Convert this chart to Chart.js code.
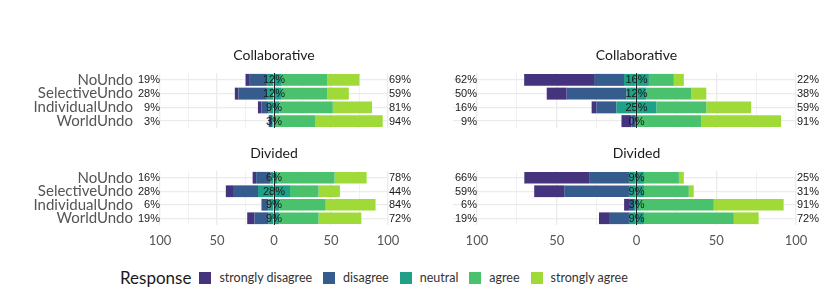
<!DOCTYPE html>
<html>
<head>
<meta charset="utf-8">
<script src="https://cdn.jsdelivr.net/npm/chart.js@4"></script>
<style>
  body { margin: 0; background: #fff; }
  #wrap { position: relative; width: 830px; height: 297px; overflow: hidden; }
  canvas { position: absolute; }
  #legend { position: absolute; left: 120px; top: 267px; display: flex; align-items: center;
            font-family: Lato, sans-serif; color: #1a1a1a; white-space: nowrap; }
  #legend .ttl { font-size: 17px; margin-right: 8px; }
  #legend .box { width: 12px; height: 12px; margin-right: 8px; }
  #legend .lab { font-size: 12.5px; margin-right: 11px; color: #333; }
</style>
</head>
<body>
<div id="wrap">
  <canvas id="p1" width="420" height="95" style="left:0;top:40px"></canvas>
  <canvas id="p2" width="410" height="95" style="left:420px;top:40px"></canvas>
  <canvas id="p3" width="420" height="115" style="left:0;top:135px"></canvas>
  <canvas id="p4" width="410" height="115" style="left:420px;top:135px"></canvas>
  <div id="legend"></div>
</div>
<script>
const categories = ['NoUndo', 'SelectiveUndo', 'IndividualUndo', 'WorldUndo'];
const responses = ['strongly disagree', 'disagree', 'neutral', 'agree', 'strongly agree'];
const responseColors = ['#46337e', '#365c8d', '#1fa187', '#4ac16d', '#a0da39'];
const xTicks = [-100, -75, -50, -25, 0, 25, 50, 75, 100];

// percent of responses, rows: strongly disagree, disagree, neutral, agree, strongly agree
const collabLeft = [
    [3.1, 3.1, 3.1, 0],
    [15.6, 25.0, 6.3, 3.1],
    [12.5, 12.5, 9.4, 3.1],
    [40.6, 40.6, 46.9, 34.4],
    [28.1, 18.8, 34.4, 59.4]
];
const collabLeftLow = ['19%', '28%', '9%', '3%'];
const collabLeftMid = ['12%', '12%', '9%', '3%'];
const collabLeftHigh = ['69%', '59%', '81%', '94%'];

const collabRight = [
    [43.8, 12.5, 3.1, 6.3],
    [18.8, 37.5, 12.5, 3.1],
    [15.6, 12.5, 25.0, 0],
    [15.6, 28.1, 31.3, 40.6],
    [6.3, 9.4, 28.1, 50.0]
];
const collabRightLow = ['62%', '50%', '16%', '9%'];
const collabRightMid = ['16%', '12%', '25%', '0%'];
const collabRightHigh = ['22%', '38%', '59%', '91%'];

const dividedLeft = [
    [3.1, 6.3, 0, 6.3],
    [12.5, 21.9, 6.3, 12.5],
    [6.3, 28.1, 9.4, 9.4],
    [50.0, 25.0, 40.6, 34.4],
    [28.1, 18.8, 43.8, 37.5]
];
const dividedLeftLow = ['16%', '28%', '6%', '19%'];
const dividedLeftMid = ['6%', '28%', '9%', '9%'];
const dividedLeftHigh = ['78%', '44%', '84%', '72%'];

const dividedRight = [
    [40.6, 18.8, 3.1, 6.3],
    [25.0, 40.6, 3.1, 12.5],
    [9.4, 9.4, 3.1, 9.4],
    [21.9, 28.1, 46.9, 56.3],
    [3.1, 3.1, 43.8, 15.6]
];
const dividedRightLow = ['66%', '59%', '6%', '19%'];
const dividedRightMid = ['9%', '9%', '3%', '9%'];
const dividedRightHigh = ['25%', '31%', '91%', '72%'];

const panels = [
    { id: 'p1', title: 'Collaborative', data: collabLeft, low: collabLeftLow, mid: collabLeftMid, high: collabLeftHigh,
      showCats: true, showTicks: false, xMin: -100, pad: { left: 160, right: 32, top: 33, bottom: 7 } },
    { id: 'p2', title: 'Collaborative', data: collabRight, low: collabRightLow, mid: collabRightMid, high: collabRightHigh,
      showCats: false, showTicks: false, xMin: -115, pad: { left: 33, right: 34, top: 33, bottom: 7 } },
    { id: 'p3', title: 'Divided', data: dividedLeft, low: dividedLeftLow, mid: dividedLeftMid, high: dividedLeftHigh,
      showCats: true, showTicks: true, xMin: -100, pad: { left: 160, right: 32, top: 36, bottom: 0 } },
    { id: 'p4', title: 'Divided', data: dividedRight, low: dividedRightLow, mid: dividedRightMid, high: dividedRightHigh,
      showCats: false, showTicks: true, xMin: -115, pad: { left: 33, right: 34, top: 36, bottom: 0 } }
];

// labels, zero line and titles drawn on top of the bars
const labelPlugin = {
    id: 'likertLabels',
    afterDatasetsDraw(chart, args, opts) {
        const { ctx, chartArea, scales } = chart;
        const x = scales.x, y = scales.y;
        const x0 = x.getPixelForValue(0);
        ctx.save();
        ctx.strokeStyle = '#222';
        ctx.lineWidth = 1;
        ctx.beginPath();
        ctx.moveTo(Math.round(x0) + 0.5, chartArea.top);
        ctx.lineTo(Math.round(x0) + 0.5, chartArea.bottom);
        ctx.stroke();

        ctx.font = '11px "Liberation Sans", Arial, sans-serif';
        ctx.fillStyle = '#1a1a1a';
        ctx.textBaseline = 'middle';
        categories.forEach((c, i) => {
            const py = y.getPixelForValue(i) + 0.5;
            ctx.textAlign = 'right';
            ctx.fillText(opts.low[i], x.getPixelForValue(-100), py);
            ctx.textAlign = 'left';
            ctx.fillText(opts.high[i], x.getPixelForValue(100) + 1, py);
            ctx.textAlign = 'center';
            ctx.fillText(opts.mid[i], x0, py);
        });

        if (opts.showCats) {
            ctx.font = '15px Lato, sans-serif';
            ctx.fillStyle = '#555';
            ctx.textAlign = 'right';
            categories.forEach((c, i) => {
                ctx.fillText(c, chartArea.left - 27, y.getPixelForValue(i));
            });
        }

        ctx.font = '14px Lato, sans-serif';
        ctx.fillStyle = '#1a1a1a';
        ctx.textAlign = 'center';
        ctx.fillText(opts.title, x0, chartArea.top - 18);
        ctx.restore();
    }
};

function makeDatasets(data) {
    const half = data[2].map(v => v / 2);
    const bar = (label, values, color) => ({
        label, data: values, backgroundColor: color, borderWidth: 0,
        barPercentage: 0.87, categoryPercentage: 1
    });
    return [
        bar('neutral', half.map(v => -v), responseColors[2]),
        bar('disagree', data[1].map(v => -v), responseColors[1]),
        bar('strongly disagree', data[0].map(v => -v), responseColors[0]),
        bar('neutral', half, responseColors[2]),
        bar('agree', data[3], responseColors[3]),
        bar('strongly agree', data[4], responseColors[4])
    ];
}

panels.forEach(p => {
    new Chart(document.getElementById(p.id), {
        type: 'bar',
        data: { labels: categories, datasets: makeDatasets(p.data) },
        options: {
            indexAxis: 'y',
            responsive: false,
            animation: false,
            devicePixelRatio: 1,
            layout: { padding: p.pad },
            plugins: {
                legend: { display: false },
                tooltip: { enabled: false },
                likertLabels: { title: p.title, low: p.low, mid: p.mid, high: p.high, showCats: p.showCats }
            },
            scales: {
                x: {
                    stacked: true,
                    min: p.xMin,
                    max: 100,
                    afterBuildTicks: s => { s.ticks = xTicks.map(v => ({ value: v })); },
                    afterFit: s => { s.height = p.showTicks ? 25 : 0; },
                    border: { display: false },
                    grid: {
                        drawTicks: false,
                        color: '#ebebeb',
                        lineWidth: c => (c.tick && c.tick.value % 50 === 0 ? 1.3 : 0.7)
                    },
                    ticks: {
                        display: p.showTicks,
                        autoSkip: false,
                        maxRotation: 0,
                        minRotation: 0,
                        padding: 8,
                        color: '#555',
                        font: { family: 'Lato', size: 13 },
                        callback: v => (v % 50 === 0 ? String(Math.abs(v)) : '')
                    }
                },
                y: {
                    stacked: true,
                    afterFit: s => { s.width = 0; },
                    border: { display: false },
                    grid: { offset: false, drawTicks: false, color: '#ebebeb', lineWidth: 1.3 },
                    ticks: { display: false }
                }
            }
        },
        plugins: [labelPlugin]
    });
});

// legend
const legend = document.getElementById('legend');
legend.innerHTML = '<span class="ttl">Response</span>' + responses.map((r, i) =>
    `<span class="box" style="background:${responseColors[i]}"></span><span class="lab">${r}</span>`).join('');
</script>
</body>
</html>
